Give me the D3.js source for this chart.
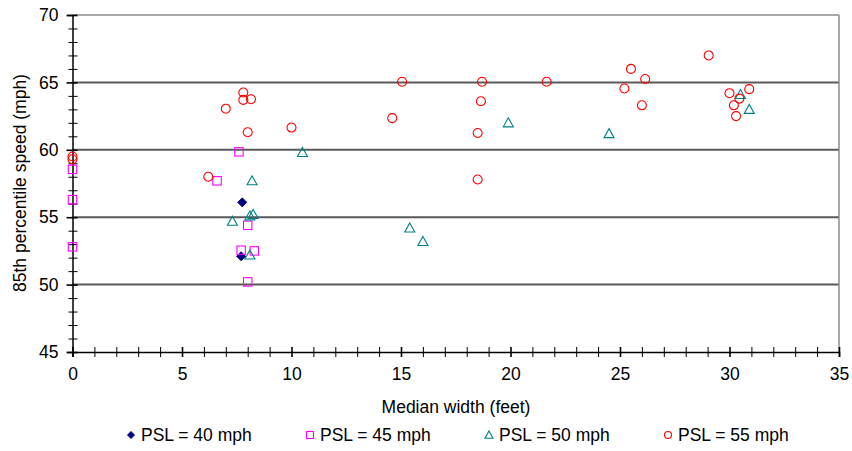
<!DOCTYPE html>
<html><head><meta charset="utf-8">
<script src="https://cdn.jsdelivr.net/npm/d3@7"></script>
<style>body{margin:0;background:#fff}svg{display:block}text{font-family:"Liberation Sans",Arial,sans-serif;fill:#000}</style>
</head><body><svg id="c" width="852" height="451"></svg>
<script>
const psl40 = [[7.75,56.1],[7.7,52.1]];
const psl45 = [[0,58.55],[0,56.3],[0,52.8],[7.6,59.85],[6.6,57.7],[8.0,54.4],[7.7,52.55],[8.3,52.5],[8.0,50.2]];
const psl50 = [[8.2,57.7],[7.3,54.7],[8.1,55.1],[8.25,55.2],[8.1,52.2],[10.5,59.8],[15.4,54.2],[16.0,53.2],[19.9,62.0],[24.5,61.2],[30.5,64.1],[30.9,63.0]];
const psl55 = [[0,59.5],[0,59.3],[6.2,58.0],[7.0,63.05],[7.8,64.25],[7.8,63.7],[8.15,63.75],[8.0,61.3],[10.0,61.65],[14.6,62.35],[15.05,65.05],[18.7,65.05],[18.65,63.6],[18.5,61.25],[18.5,57.8],[21.65,65.05],[25.5,66.0],[26.15,65.25],[25.2,64.55],[26.0,63.3],[29.05,67.0],[30.0,64.2],[30.9,64.5],[30.45,63.8],[30.2,63.3],[30.3,62.5]];
const seriesNames = ["PSL = 40 mph","PSL = 45 mph","PSL = 50 mph","PSL = 55 mph"];
const xTicks = [0,5,10,15,20,25,30,35];
const yTicks = [45,50,55,60,65,70];
const xTitle = "Median width (feet)";
const yTitle = "85th percentile speed (mph)";

const svg = d3.select("#c");
const L=72.5, R=839, T=15, B=352;
const x = d3.scaleLinear().domain([0,35]).range([L,R]);
const y = d3.scaleLinear().domain([45,70]).range([B,T]);

// gridlines
svg.append("g").selectAll("line").data(yTicks.filter(v=>v>45)).join("line")
  .attr("x1",L).attr("x2",R).attr("y1",d=>y(d)).attr("y2",d=>y(d))
  .attr("stroke",d=>d===70?"#8c8c8c":"#5a5a5a").attr("stroke-width",d=>d===70?1.5:2);
// right border
svg.append("line").attr("x1",R).attr("x2",R).attr("y1",T).attr("y2",B).attr("stroke","#8c8c8c").attr("stroke-width",1.5);

// x axis
const xa = svg.append("g").attr("transform",`translate(0,${B})`)
  .call(d3.axisBottom(x).tickValues(d3.range(0,36,1)).tickSize(5).tickFormat(d=>xTicks.includes(d)?d:""));
xa.select(".domain").attr("stroke","#000").attr("stroke-width",1.5);
xa.selectAll(".tick line").attr("y1",-5).attr("y2",5).attr("stroke","#000").attr("stroke-width",d=>d%5===0?1.6:1);
xa.selectAll(".tick text").attr("y",22).attr("dy","0.35em").style("font-size","17.5px").style("font-family","Liberation Sans, Arial");

// y axis
const ya = svg.append("g").attr("transform",`translate(${L},0)`)
  .call(d3.axisLeft(y).tickValues(d3.range(45,71,1)).tickSize(5).tickFormat(d=>yTicks.includes(d)?d:""));
ya.select(".domain").attr("stroke","#000").attr("stroke-width",1.5);
ya.selectAll(".tick line").attr("x1",d=>d%5===0?-6:-4).attr("x2",5).attr("stroke","#000").attr("stroke-width",d=>d%5===0?1.6:1);
ya.selectAll(".tick text").attr("x",-14).style("font-size","17.5px").style("font-family","Liberation Sans, Arial");

// titles
svg.append("text").attr("x",456).attr("y",407).attr("dy","0.35em").attr("text-anchor","middle").style("font-size","17.5px").text(xTitle);
svg.append("text").attr("transform","translate(20,183) rotate(-90)").attr("dy","0.35em").attr("text-anchor","middle").style("font-size","17.5px").text(yTitle);

// markers
function diamond(g,s){ g.append("path").attr("d",`M0,${-s}L${s},0L0,${s}L${-s},0Z`).attr("fill","#000080").attr("stroke","#000080"); }
function square(g,s){ g.append("rect").attr("x",-s).attr("y",-s).attr("width",2*s).attr("height",2*s).attr("fill","none").attr("stroke","#ff00ff").attr("stroke-width",1.1); }
function tri(g,s){ g.append("path").attr("d",`M0,${-s}L${s},${s*0.8}L${-s},${s*0.8}Z`).attr("fill","none").attr("stroke","#008080").attr("stroke-width",1.1); }
function circ(g,s){ g.append("circle").attr("r",s).attr("fill","none").attr("stroke","#ff0000").attr("stroke-width",1.1); }
const sets = [[psl40,diamond,4.5],[psl45,square,4.2],[psl50,tri,5],[psl55,circ,4.5]];
sets.forEach(([data,fn,s])=>{
  svg.append("g").selectAll("g").data(data).join("g")
    .attr("transform",d=>`translate(${x(d[0])},${y(d[1])})`)
    .each(function(){ fn(d3.select(this),s); });
});

// legend
const lx = [131,310,489,668];
const lg = svg.append("g");
seriesNames.forEach((n,i)=>{
  const g = lg.append("g").attr("transform",`translate(${lx[i]},435)`);
  sets[i][1](g, i===2?4:3.5);
  g.append("text").attr("x",10).attr("dy","0.35em").style("font-size","17.5px").text(n);
});
</script></body></html>
